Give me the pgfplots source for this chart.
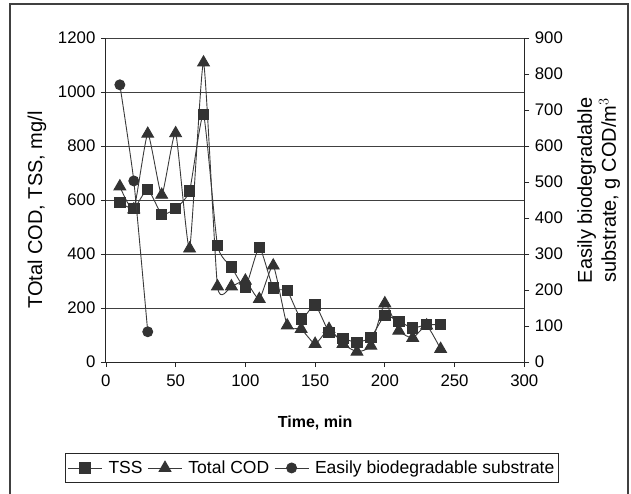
\documentclass[border=0pt]{standalone}
\usepackage{fontspec}
\setmainfont{Liberation Sans}
\usepackage{pgfplots}
\pgfplotsset{compat=1.18}
\usepackage{pgfplotstable}
\definecolor{ser}{HTML}{333333}
\definecolor{lin}{HTML}{3A3A3A}

\pgfplotstableread{
t v
10 590
20 568
30 640
40 547
50 569
60 634
70 916
80 432
90 352
100 277
110 425
120 274
130 264
140 159
150 212
160 110
170 87
180 73
190 91
200 172
210 151
220 126
230 138
240 138
}\tss

\pgfplotstableread{
t v
10 650
20 565
30 845
40 619
50 847
60 420
70 1109
80 280
90 280
100 301
110 233
120 357
130 135
140 122
150 67
160 122
170 67
180 38
190 60
200 217
210 116
220 89
230 135
240 48
}\cod

\pgfplotstableread{
t v
10 770
20 503
30 84
}\ebs

\begin{document}
\begin{tikzpicture}[x=1pt,y=1pt]
\useasboundingbox (0,0) rectangle (631,493);
\draw[black!75, line width=1.4pt] (10,-10) -- (10,489) -- (628,489) -- (628,-10);
\pgfplotsset{
  common/.style={
    at={(105.9pt,131pt)}, anchor=south west, scale only axis,
    width=418.4pt, height=324pt,
    xmin=0, xmax=300,
    tick align=outside, major tick length=5pt,
    tick style={black!85, line width=0.8pt},
    axis line style={black!85, line width=1pt},
    ticklabel style={font=\fontsize{16.8}{18}\selectfont},
    xticklabel style={yshift=-4pt},
    /pgf/number format/assume math mode=true,
    /pgf/number format/1000 sep={},
    legend image code/.code={\draw[mark repeat=2,mark phase=2,##1] plot coordinates {(0pt,0pt)(17pt,0pt)(34pt,0pt)};},
  },
  ln/.style={lin, line width=0.9pt, smooth, tension=0.3, mark options={fill=ser, draw=ser, solid}},
}
\begin{axis}[common,
  ymin=0, ymax=1200,
  xtick={0,50,...,300}, ytick={0,200,...,1200},
  axis x line*=bottom, axis y line*=left,
  ymajorgrids, major grid style={black!75, line width=0.8pt},
  yticklabel style={xshift=-2pt},
  xlabel={\bfseries Time, min},
  every axis x label/.style={at={(axis description cs:0.5,-0.188)}, anchor=center, font=\fontsize{16}{18}\selectfont},
  ylabel={TOtal COD, TSS, mg/l},
  every axis y label/.style={at={(axis description cs:-0.165,0.469)}, anchor=center, rotate=90, font=\fontsize{20}{22}\selectfont},
  legend columns=3,
  legend style={at={(axis description cs:0.4926,-0.327)}, anchor=center, draw=black!85, line width=0.8pt,
    font=\fontsize{17.5}{20}\selectfont, inner xsep=2pt, inner ysep=5pt,
    /tikz/every even column/.append style={column sep=3pt},
    /tikz/every odd column/.append style={column sep=4pt}},
]
\addplot[ln, mark=square*, mark size=5.2pt] table[x=t,y=v] {\tss};
\addlegendentry{TSS}
\addplot[ln, mark=triangle*, mark size=6.8pt] table[x=t,y=v] {\cod};
\addlegendentry{Total COD}
\addlegendimage{ln, mark=*, mark size=5pt}
\addlegendentry{Easily biodegradable substrate}
\end{axis}
\begin{axis}[common,
  ymin=0, ymax=900, ytick={0,100,...,900},
  axis y line*=right, axis x line=none,
  yticklabel style={xshift=2pt},
  ylabel={Easily biodegradable\\substrate, g COD/m$^3$},
  every axis y label/.style={at={(axis description cs:1.178,0.53)}, anchor=center, rotate=90, align=center, font=\fontsize{20}{24}\selectfont},
]
\addplot[ln, mark=*, mark size=5pt] table[x=t,y=v] {\ebs};
\end{axis}
\end{tikzpicture}
\end{document}
